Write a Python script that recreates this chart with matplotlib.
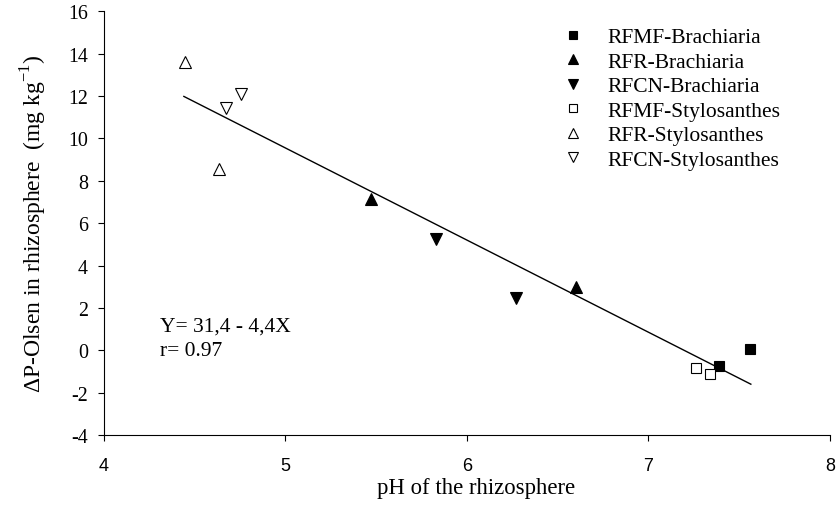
import matplotlib
matplotlib.use("Agg")
import matplotlib.pyplot as plt

# Data
rfmf_brach_x = [7.39, 7.56]
rfmf_brach_y = [-0.75, 0.06]
rfr_brach_x = [5.47, 6.60]
rfr_brach_y = [7.15, 3.0]
rfcn_brach_x = [5.83, 6.27]
rfcn_brach_y = [5.24, 2.45]
rfmf_stylo_x = [7.265, 7.34]
rfmf_stylo_y = [-0.85, -1.1]
rfr_stylo_x = [4.445, 4.635]
rfr_stylo_y = [13.6, 8.55]
rfcn_stylo_x = [4.672, 4.755]
rfcn_stylo_y = [11.45, 12.1]

fit_x = [4.44, 7.565]
fit_y = [11.98, -1.6]

x_ticks = [4, 5, 6, 7, 8]
y_ticks = [-4, -2, 0, 2, 4, 6, 8, 10, 12, 14, 16]

serif = ["Liberation Serif", "DejaVu Serif"]
sans = ["Liberation Sans", "DejaVu Sans"]

fig = plt.figure(figsize=(8.39, 5.10), dpi=100)
ax = fig.add_axes([0.124, 0.145, 0.865, 0.831])

ax.plot(fit_x, fit_y, color="black", lw=1.0, zorder=1)

series = [
    (rfmf_brach_x, rfmf_brach_y, "s", "black", 7, "RFMF-Brachiaria"),
    (rfr_brach_x, rfr_brach_y, "^", "black", 8.5, "RFR-Brachiaria"),
    (rfcn_brach_x, rfcn_brach_y, "v", "black", 8.5, "RFCN-Brachiaria"),
    (rfmf_stylo_x, rfmf_stylo_y, "s", "white", 7, "RFMF-Stylosanthes"),
    (rfr_stylo_x, rfr_stylo_y, "^", "white", 8.5, "RFR-Stylosanthes"),
    (rfcn_stylo_x, rfcn_stylo_y, "v", "white", 8.5, "RFCN-Stylosanthes"),
]
for xs, ys, m, fc, ms, lab in series:
    ax.plot(xs, ys, linestyle="none", marker=m, markersize=ms,
            markerfacecolor=fc, markeredgecolor="black", markeredgewidth=0.8,
            label=lab, zorder=3)

ax.set_xlim(4, 8)
ax.set_ylim(-4, 16)
ax.set_xticks(x_ticks)
ax.set_yticks(y_ticks)
ax.set_xticklabels([str(v) for v in x_ticks], family=sans, fontsize=13)
ax.set_yticklabels([str(v) for v in y_ticks], family=serif, fontsize=14.4)
ax.tick_params(direction="out", length=4.5, width=0.8)
ax.tick_params(axis="x", pad=11)
ax.tick_params(axis="y", pad=7)
ax.spines["top"].set_visible(False)
ax.spines["right"].set_visible(False)
for s in ("left", "bottom"):
    ax.spines[s].set_linewidth(0.8)

ax.set_xlabel("pH of the rhizosphere", family=serif, fontsize=16.4)
ax.xaxis.set_label_coords(0.512, -0.1)
ax.xaxis.label.set_va("top")
ax.set_ylabel(r"ΔP-Olsen in rhizosphere  (mg kg$^{\mathregular{-1}}$)",
              family=serif, fontsize=17, labelpad=14)

fig.text(160 / 839, 1 - 332 / 510, "Y= 31,4 - 4,4X", family=serif, fontsize=15.5)
fig.text(160 / 839, 1 - 356 / 510, "r= 0.97", family=serif, fontsize=15.5)

leg = fig.legend(loc="upper left", bbox_to_anchor=(562 / 839, 1 - 28 / 510),
                 frameon=False, prop={"family": serif, "size": 15.5},
                 markerscale=0.85, handletextpad=1.13, labelspacing=0.21,
                 handlelength=1.0, borderpad=0.0, borderaxespad=0.0)

fig.savefig("out.png", dpi=100)
